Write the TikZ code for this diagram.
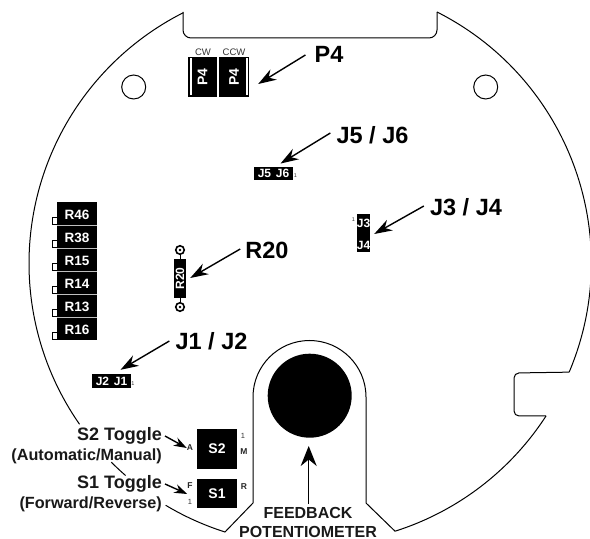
\documentclass[tikz,border=0pt]{standalone}
\usepackage{fontspec}
\setmainfont{Liberation Sans}
\usetikzlibrary{arrows.meta}
\newcommand{\boldsize}[1]{\fontsize{#1}{#1}\selectfont\bfseries}
\newcommand{\plainsize}[1]{\fontsize{#1}{#1}\selectfont}
\tikzset{
  >=Stealth,
  outline/.style={line width=1pt},
  leader/.style={->,line width=1.4pt,>={Stealth[length=18pt,width=12pt]}},
  shortleader/.style={->,line width=1.4pt,>={Stealth[length=13pt,width=9pt]}},
  chip/.style={fill=black,text=white,inner sep=0pt,anchor=center},
  callout/.style={inner sep=0pt,font=\boldsize{23.5}},
  toggle/.style={inner sep=0pt,anchor=east,text=black!90},
  pin/.style={inner sep=0pt,font=\boldsize{8.5},text=black!85},
  tiny/.style={inner sep=0pt,font=\plainsize{7.5},text=black!80},
  potlabel/.style={inner sep=0pt,font=\boldsize{16},text=black!90}
}
\begin{document}
\begin{tikzpicture}[x=1pt,y=1pt]
\useasboundingbox (0,0) rectangle (590,539);
\coordinate (C) at (310,275.5);

\draw[outline,rounded corners=8pt]
  (183,527) coordinate (notchL) --
  (183,501) --
  (437,501) --
  (437,527) coordinate (notchR);
\draw[outline]
  (notchR) arc[start angle=63.2,end angle=-22.9,radius=281pt] coordinate (keyA);
\draw[outline,rounded corners=5pt]
  (keyA) -- (514,166) -- (514,123) -- (546,123) coordinate (keyB);
\draw[outline]
  (keyB) arc[start angle=-32.9,end angle=-72.4,radius=281pt] --
  (366,36) --
  (366,142) arc[start angle=0,end angle=180,radius=56.5pt] --
  (253,36) --
  (225,7) arc[start angle=-107.6,end angle=-120.9,radius=281pt];
\draw[outline] (C) ++(229:281pt) arc[start angle=229,end angle=225,radius=281pt];
\draw[outline] (C) ++(214.9:281pt) arc[start angle=214.9,end angle=116.8,radius=281pt];

\draw[outline] (133.7,452) circle(12pt);
\draw[outline] (485.7,452) circle(12pt);
\fill (309.7,143.3) circle(42pt);

\node[chip,minimum width=29pt,minimum height=40pt] (pfourA) at (202.5,462) {\rotatebox{90}{\boldsize{14}P4}};
\node[chip,minimum width=30pt,minimum height=40pt] (pfourB) at (234,462) {\rotatebox{90}{\boldsize{14}P4}};
\fill[white] (189.5,443.5) rectangle (191.5,481);
\fill[white] (245.5,443.5) rectangle (247.5,481);
\node[tiny,font=\plainsize{9.5}] (cw) at (203,487) {CW};
\node[tiny,font=\plainsize{9.5}] (ccw) at (234,487) {CCW};
\node[callout] (lblpfour) at (329,485) {P4};
\draw[leader] ([xshift=-9pt,yshift=-1pt]lblpfour.west) -- ([xshift=9pt,yshift=-7pt]pfourB.east);

\node[chip,minimum width=39pt,minimum height=13.5pt,font=\boldsize{12}] (jfive) at (273.5,365.5) {J5\hspace{.4em}J6\hspace{3pt}};
\node[tiny,font=\plainsize{5.5}] (jfiveone) at (295.5,363) {1};
\node[callout] (lbljfive) at (372.5,404) {J5 / J6};
\draw[leader] ([xshift=-6pt,yshift=2pt]lbljfive.west) -- ([xshift=7pt,yshift=3pt]jfive.north);

\node[chip,minimum width=13pt,minimum height=38pt] (jthree) at (363.5,306) {};
\node[inner sep=0pt,text=white,font=\boldsize{12}] (jthreetxt) at (363.5,316) {J3};
\node[inner sep=0pt,text=white,font=\boldsize{12}] (jfourtxt) at (363.5,294) {J4};
\node[tiny,font=\plainsize{5.5}] (jthreeone) at (353.5,319) {1};
\node[callout] (lbljthree) at (466,332) {J3 / J4};
\draw[leader] ([xshift=-6pt,yshift=1pt]lbljthree.west) -- ([xshift=4pt,yshift=-1pt]jthree.east);

\foreach \name/\ypos/\tabpos in {R46/325.5/318,R38/302.5/295,R15/279.5/272,R14/256.5/249,R13/233.5/226,R16/210.5/203}{
  \node[chip,text width=40pt,align=center,text height=17.65pt,text depth=5.35pt,font=\boldsize{13.5}] (\name) at (77,\ypos) {\name};
  \draw[line width=.8pt,fill=white] (52.5,\tabpos-3.5) rectangle (57,\tabpos+3.5);
}
\foreach \ypos in {314,291,268,245,222}
  \draw[black!25,line width=.8pt] (57,\ypos) -- (97,\ypos);

\node[chip,minimum width=12pt,minimum height=39pt] (rtwenty) at (180,260.5) {\rotatebox{90}{\boldsize{12}R20}};
\foreach \name/\ypos in {padA/289,padB/232}{
  \node[circle,draw,fill=white,line width=1.6pt,minimum size=8.5pt,inner sep=0pt] (\name) at (180,\ypos) {};
  \fill (180,\ypos) circle(1.4pt);
}
\draw[line width=1pt] (padA) -- (rtwenty);
\draw[line width=1pt] (padB) -- (rtwenty);
\node[callout] (lblrtwenty) at (267,289) {R20};
\draw[leader] ([xshift=-5pt,yshift=1pt]lblrtwenty.west) -- ([xshift=4pt,yshift=.5pt]rtwenty.east);

\node[chip,minimum width=39pt,minimum height=14pt,font=\boldsize{12}] (jtwo) at (111.5,158) {J2\hspace{.4em}J1\hspace{3pt}};
\node[tiny,font=\plainsize{5.5}] (jtwoone) at (133,155) {1};
\node[callout] (lbljone) at (211.5,198) {J1 / J2};
\draw[leader] ([xshift=-6pt]lbljone.west) -- ([xshift=9pt,yshift=4pt]jtwo.north);

\node[chip,minimum width=40pt,minimum height=40pt,font=\boldsize{14}] (stwo) at (217,90) {S2};
\node[chip,minimum width=40pt,minimum height=29pt,font=\boldsize{14}] (sone) at (217,45.5) {S1};
\node[pin] (pinA) at (190,91) {A};
\node[pin] (pinF) at (190,53) {F};
\node[tiny] (pinFone) at (190,37) {1};
\node[tiny] (pinStwoone) at (243,103) {1};
\node[pin] (pinM) at (244,87) {M};
\node[pin] (pinR) at (244,52) {R};

\node[toggle,font=\boldsize{18}] (lblstwo) at (162,103) {S2 Toggle};
\node[toggle,font=\boldsize{16.2}] (lblam) at (162,83) {(Automatic/Manual)};
\node[toggle,font=\boldsize{18}] (lblsone) at (162,55) {S1 Toggle};
\node[toggle,font=\boldsize{16.2}] (lblfr) at (162,35) {(Forward/Reverse)};
\draw[shortleader] ([xshift=3pt]lblstwo.east) -- (pinA.west);
\draw[shortleader] ([xshift=3pt]lblsone.east) -- ([yshift=-8pt]pinF.west);

\node[potlabel] (lblfeedback) at (308,26) {FEEDBACK};
\node[potlabel] (lblpot) at (308,7) {POTENTIOMETER};
\coordinate (potTip) at (308.7,93);
\draw[->,line width=1.4pt,>={Stealth[length=20pt,width=16pt]}] ([xshift=.7pt,yshift=3pt]lblfeedback.north) -- (potTip);
\end{tikzpicture}
\end{document}
